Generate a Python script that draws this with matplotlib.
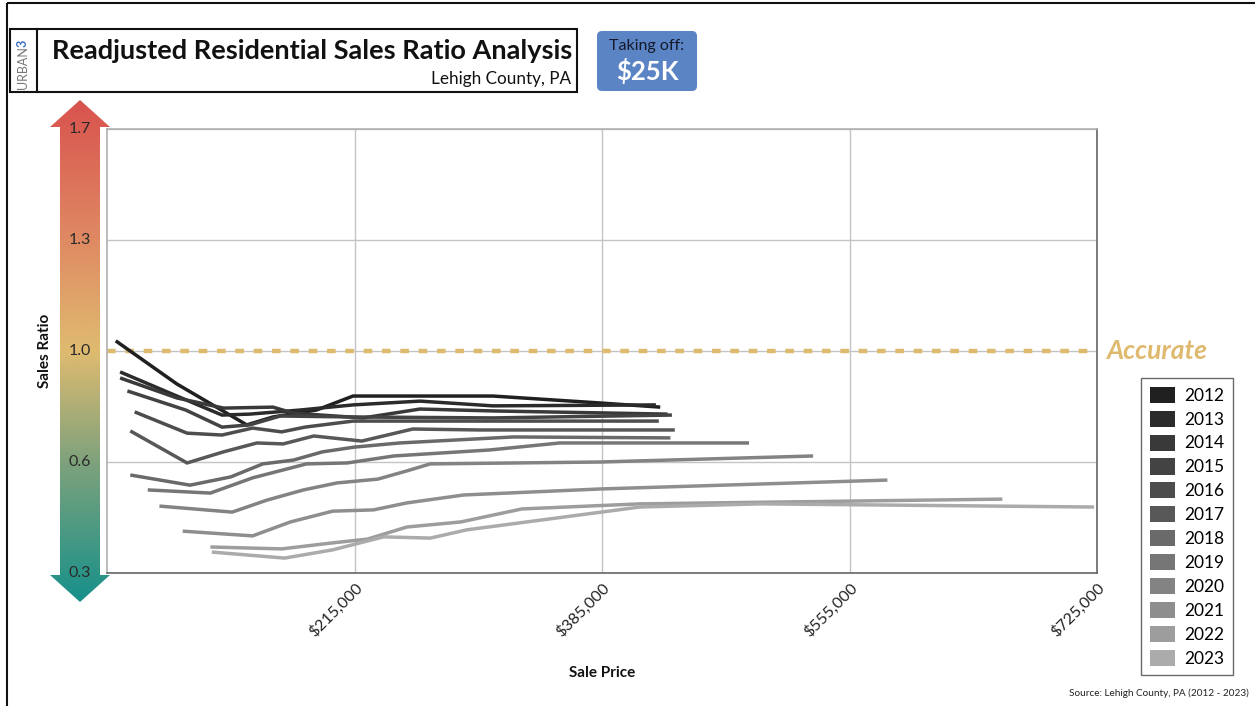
import matplotlib
matplotlib.use("Agg")
import matplotlib.pyplot as plt
import numpy as np
from matplotlib.patches import Rectangle, FancyBboxPatch, Polygon, Patch
from matplotlib.colors import LinearSegmentedColormap
from matplotlib.transforms import blended_transform_factory

plt.rcParams['font.family'] = ['Lato', 'DejaVu Sans']
plt.rcParams['lines.scale_dashes'] = False

# ---------------- data ----------------
years = ['2012', '2013', '2014', '2015', '2016', '2017',
         '2018', '2019', '2020', '2021', '2022', '2023']
colors = ['#202020', '#2b2b2b', '#393939', '#434343', '#4d4d4d', '#585858',
          '#6a6a6a', '#767676', '#838383', '#8e8e8e', '#9d9d9d', '#ababab']

x2012 = [51000, 93000, 141000, 159000, 189000, 214000, 260000, 310000, 384000, 425000]
y2012 = [1.032, 0.896, 0.767, 0.792, 0.814, 0.858, 0.858, 0.858, 0.836, 0.823]
x2013 = [54000, 93000, 124000, 143000, 178000, 214000, 260000, 310000, 422000]
y2013 = [0.934, 0.858, 0.798, 0.801, 0.814, 0.830, 0.842, 0.827, 0.830]
x2014 = [54000, 93000, 125000, 159000, 173000, 221000, 260000, 310000, 430000]
y2014 = [0.915, 0.852, 0.820, 0.823, 0.804, 0.789, 0.817, 0.811, 0.801]
x2015 = [59000, 99000, 124000, 143000, 164000, 214000, 310000, 433000]
y2015 = [0.874, 0.814, 0.760, 0.767, 0.795, 0.792, 0.789, 0.798]
x2016 = [64000, 100000, 124000, 145000, 165000, 181000, 214000, 310000, 424000]
y2016 = [0.808, 0.741, 0.735, 0.757, 0.745, 0.760, 0.779, 0.779, 0.779]
x2017 = [61000, 100000, 125000, 148000, 166000, 187000, 220000, 255000, 301000, 435000]
y2017 = [0.748, 0.647, 0.682, 0.710, 0.707, 0.732, 0.716, 0.754, 0.751, 0.751]
x2018 = [61000, 102000, 130000, 152000, 173000, 193000, 215000, 246000, 324000, 432000]
y2018 = [0.609, 0.577, 0.603, 0.644, 0.656, 0.682, 0.697, 0.710, 0.729, 0.726]
x2019 = [73000, 116000, 145000, 182000, 210000, 242000, 308000, 356000, 486000]
y2019 = [0.562, 0.552, 0.600, 0.644, 0.647, 0.669, 0.688, 0.710, 0.710]
x2020 = [81000, 131000, 155000, 180000, 203000, 231000, 251000, 267000, 384000, 530000]
y2020 = [0.511, 0.492, 0.530, 0.562, 0.584, 0.596, 0.622, 0.644, 0.650, 0.669]
x2021 = [97000, 145000, 171000, 200000, 228000, 251000, 290000, 384000, 581000]
y2021 = [0.432, 0.417, 0.461, 0.495, 0.499, 0.521, 0.546, 0.565, 0.593]
x2022 = [116000, 165000, 200000, 224000, 251000, 288000, 330000, 411000, 660000]
y2022 = [0.382, 0.376, 0.395, 0.407, 0.445, 0.461, 0.502, 0.518, 0.533]
x2023 = [117000, 167000, 200000, 235000, 267000, 292000, 411000, 494000, 723000]
y2023 = [0.366, 0.347, 0.373, 0.414, 0.410, 0.436, 0.508, 0.518, 0.508]

xs = [x2012, x2013, x2014, x2015, x2016, x2017, x2018, x2019, x2020, x2021, x2022, x2023]
ys = [y2012, y2013, y2014, y2015, y2016, y2017, y2018, y2019, y2020, y2021, y2022, y2023]

x_ticks = [215000, 385000, 555000, 725000]
x_ticklabels = ['$215,000', '$385,000', '$555,000', '$725,000']
y_ticks = [0.3, 0.65, 1.0, 1.35, 1.7]
y_ticklabels = ['0.3', '0.6', '1.0', '1.3', '1.7']
x_min, x_max = 45000, 725000
y_min, y_max = 0.3, 1.7
accurate = 1.0

W, H = 1255, 706
fig = plt.figure(figsize=(W / 100, H / 100), dpi=100)

# overlay axes in pixel coordinates
ov = fig.add_axes([0, 0, 1, 1])
ov.set_xlim(0, W)
ov.set_ylim(H, 0)
ov.axis('off')
ov.set_zorder(0)

# outer frame
ov.add_patch(Rectangle((7, 3), W, H, fill=False, ec='#111111', lw=1.5))

# title box
ov.add_patch(Rectangle((10, 29), 567, 63, fill=False, ec='#111111', lw=1.5))
ov.plot([37, 37], [29, 92], color='#111111', lw=1.5)
ov.text(23, 89, 'URBAN', rotation=90, ha='center', va='bottom', fontsize=9,
        color='#777777')
ov.text(23, 43, '3', rotation=90, ha='center', va='center', fontsize=9,
        color='#3b6fc2', fontweight='bold')
ov.text(572, 51, 'Readjusted Residential Sales Ratio Analysis', ha='right', va='center',
        fontsize=19.5, fontweight='bold', color='#111111')
ov.text(571, 79, 'Lehigh County, PA', ha='right', va='center', fontsize=12.3,
        color='#111111')

# blue badge
ov.add_patch(FancyBboxPatch((597, 31), 100, 60, boxstyle='round,pad=0,rounding_size=5',
                            fc='#5b84c4', ec='none'))
ov.text(647, 46, 'Taking off:', ha='center', va='center', fontsize=11.5, color='#14192b')
ov.text(647, 71, '$25K', ha='center', va='center', fontsize=18.5, fontweight='bold',
        color='white')

# gradient arrow
cmap = LinearSegmentedColormap.from_list('ratio', [
    (0.0, '#d9524e'), (0.28, '#df8a63'), (0.5, '#dfbb70'),
    (0.72, '#7fa27c'), (1.0, '#16908a')])
grad = np.linspace(0, 1, 256).reshape(-1, 1)
im = ov.imshow(grad, cmap=cmap, extent=(48, 112, 603, 99), aspect='auto',
               interpolation='bilinear', zorder=1)
arrow = Polygon([(80, 100), (50, 127), (60, 127), (60, 575), (50, 575), (80, 602),
                 (110, 575), (100, 575), (100, 127), (110, 127)], closed=True,
                fc='none', ec='none', transform=ov.transData)
ov.add_patch(arrow)
im.set_clip_path(arrow)

ov.text(45, 351, 'Sales Ratio', rotation=90, ha='center', va='center', fontsize=11,
        fontweight='bold', color='#111111')
ov.text(602, 673, 'Sale Price', ha='center', va='center', fontsize=11,
        fontweight='bold', color='#111111')
ov.text(1249, 693, 'Source: Lehigh County, PA (2012 - 2023)', ha='right', va='center',
        fontsize=7.2, color='#222222')

# main axes
ax = fig.add_axes([107 / W, 1 - 573 / H, 990 / W, 444 / H])
ax.set_zorder(2)
ax.set_facecolor('white')
for i in range(len(years)):
    ax.plot(xs[i], ys[i], color=colors[i], lw=2.5, solid_capstyle='butt',
            solid_joinstyle='miter', zorder=3)
ax.set_xlim(x_min, x_max)
ax.set_ylim(y_min, y_max)
ax.set_xticks(x_ticks)
ax.set_xticklabels(x_ticklabels, rotation=45, ha='right', rotation_mode='anchor',
                   fontsize=11.5, color='#222222')
ax.set_yticks(y_ticks)
ax.set_yticklabels([])
ax.tick_params(axis='both', length=0)
ax.tick_params(axis='x', pad=5)
ax.grid(True, color='#c4c4c4', lw=1)
ax.set_axisbelow(True)
for s in ['top', 'left']:
    ax.spines[s].set_color('#b0b0b0')
for s in ['bottom', 'right']:
    ax.spines[s].set_color('#666666')
for s in ax.spines.values():
    s.set_linewidth(1.2)

ax.axhline(accurate, color='#deba6e', lw=3.2, dashes=(6.2, 7.0), zorder=2.5)
ax.text(1.009, accurate, 'Accurate', transform=blended_transform_factory(ax.transAxes, ax.transData),
        ha='left', va='center', fontsize=19, fontstyle='italic', fontweight='bold',
        color='#dfba6e', clip_on=False)

# y tick labels drawn on the gradient arrow
tr = blended_transform_factory(ov.transData, ax.transData)
for v, lab in zip(y_ticks, y_ticklabels):
    fig.text(80, v, lab, transform=tr, ha='center', va='center', fontsize=11.5,
             color='#2a2a2a', zorder=5)

# legend
handles = [Patch(facecolor=c, edgecolor='none') for c in colors]
leg = fig.legend(handles, years, loc='upper left',
                 bbox_to_anchor=(1141 / W, 1 - 378 / H), fontsize=12.5,
                 frameon=True, fancybox=False, edgecolor='#444444',
                 handlelength=1.45, handleheight=1.05, handletextpad=0.55,
                 labelspacing=0.40, borderpad=0.5, borderaxespad=0)
leg.get_frame().set_linewidth(1.0)

fig.savefig('out.png', dpi=100)
